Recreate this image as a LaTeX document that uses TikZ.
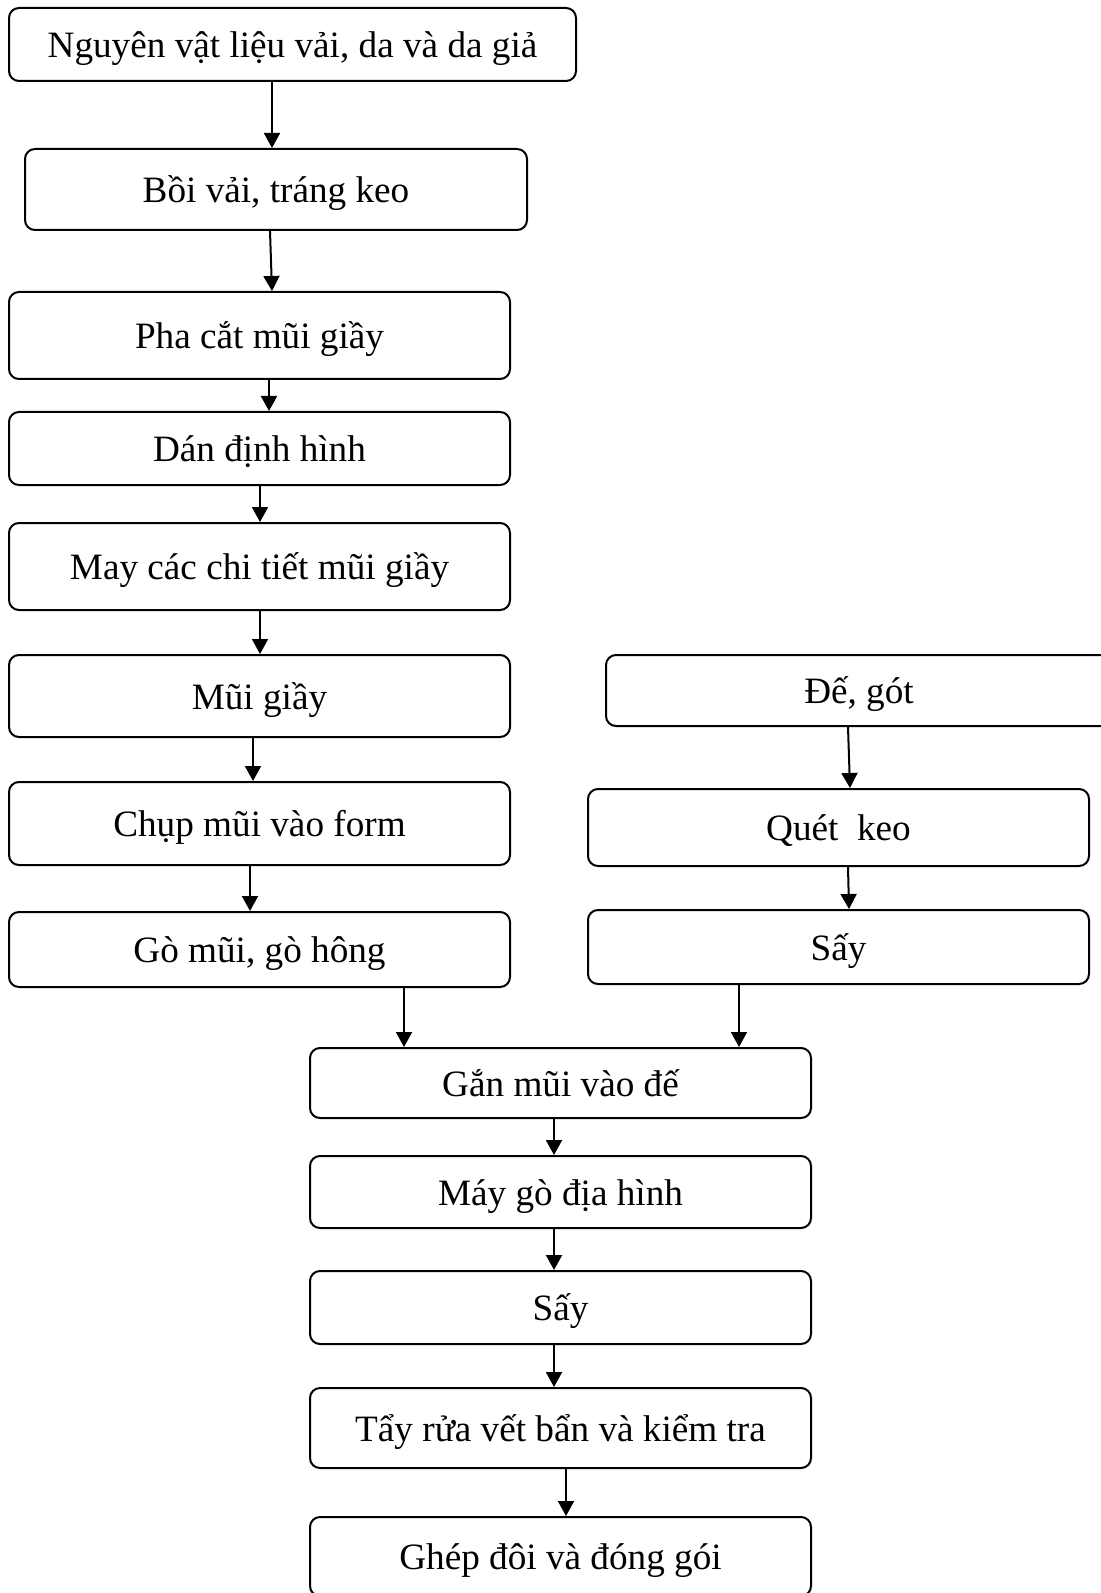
\documentclass[tikz,border=0pt]{standalone}
\usepackage{fontspec}
\setmainfont{Liberation Serif}
\usetikzlibrary{arrows.meta}
\begin{document}
\begin{tikzpicture}[x=0.5pt,y=-0.5pt,
  stepbox/.style={draw, line width=1pt, rounded corners=5pt, inner sep=0pt,
    text height=17pt, text depth=4pt,
    font=\fontsize{18.6}{22}\selectfont},
  flow/.style={line width=1pt, -{Triangle[length=7.5pt,width=8pt]}}]
\useasboundingbox (0,0) rectangle (1100,1593);

% main column: upper part
\node[stepbox, minimum width=283.5pt, minimum height=36.5pt] (n1) at (292.5,44.5) {Nguyên vật liệu vải, da và da giả};
\node[stepbox, minimum width=251pt,   minimum height=40.5pt] (n2) at (276,189.5) {Bồi vải, tráng keo};
\node[stepbox, minimum width=250.5pt, minimum height=43.5pt] (n3) at (259.5,335.5) {Pha cắt mũi giầy};
\node[stepbox, minimum width=250.5pt, minimum height=36.5pt] (n4) at (259.5,448.5) {Dán định hình};
\node[stepbox, minimum width=250.5pt, minimum height=43.5pt] (n5) at (259.5,566.5) {May các chi tiết mũi giầy};
\node[stepbox, minimum width=250.5pt, minimum height=41pt]   (n6) at (259.5,696) {Mũi giầy};
\node[stepbox, minimum width=250.5pt, minimum height=41.5pt] (n7) at (259.5,823.5) {Chụp mũi vào form};
\node[stepbox, minimum width=250.5pt, minimum height=37.5pt] (n8) at (259.5,949.5) {Gò mũi, gò hông};

% sole branch
\node[stepbox, minimum width=253pt,   minimum height=35.5pt] (r1) at (859,690.5) {Đế, gót};
\node[stepbox, minimum width=250.5pt, minimum height=38.5pt] (r2) at (838.5,827.5) {Quét\ \ keo};
\node[stepbox, minimum width=250.5pt, minimum height=37pt]   (r3) at (838.5,947) {Sấy};

% assembly and finishing
\node[stepbox, minimum width=250.5pt, minimum height=35pt]   (b1) at (560.5,1083) {Gắn mũi vào đế};
\node[stepbox, minimum width=250.5pt, minimum height=36pt]   (b2) at (560.5,1192) {Máy gò địa hình};
\node[stepbox, minimum width=250.5pt, minimum height=36.5pt] (b3) at (560.5,1307.5) {Sấy};
\node[stepbox, minimum width=250.5pt, minimum height=40pt]   (b4) at (560.5,1428) {Tẩy rửa vết bẩn và kiểm tra};
\node[stepbox, minimum width=250.5pt, minimum height=39.5pt] (b5) at (560.5,1556.5) {Ghép đôi và đóng gói};

% connectors
\draw[flow] (272,0 |- n1.south) -- (272,0 |- n2.north);
\draw[flow] (270,0 |- n2.south) -- (272,0 |- n3.north);
\draw[flow] (269,0 |- n3.south) -- (269,0 |- n4.north);
\draw[flow] (260,0 |- n4.south) -- (260,0 |- n5.north);
\draw[flow] (260,0 |- n5.south) -- (260,0 |- n6.north);
\draw[flow] (253,0 |- n6.south) -- (253,0 |- n7.north);
\draw[flow] (250,0 |- n7.south) -- (250,0 |- n8.north);
\draw[flow] (404,0 |- n8.south) -- (404,0 |- b1.north);

\draw[flow] (848,0 |- r1.south) -- (850,0 |- r2.north);
\draw[flow] (848,0 |- r2.south) -- (849,0 |- r3.north);
\draw[flow] (739,0 |- r3.south) -- (739,0 |- b1.north);

\draw[flow] (554,0 |- b1.south) -- (554,0 |- b2.north);
\draw[flow] (554,0 |- b2.south) -- (554,0 |- b3.north);
\draw[flow] (554,0 |- b3.south) -- (554,0 |- b4.north);
\draw[flow] (566,0 |- b4.south) -- (566,0 |- b5.north);
\end{tikzpicture}
\end{document}
